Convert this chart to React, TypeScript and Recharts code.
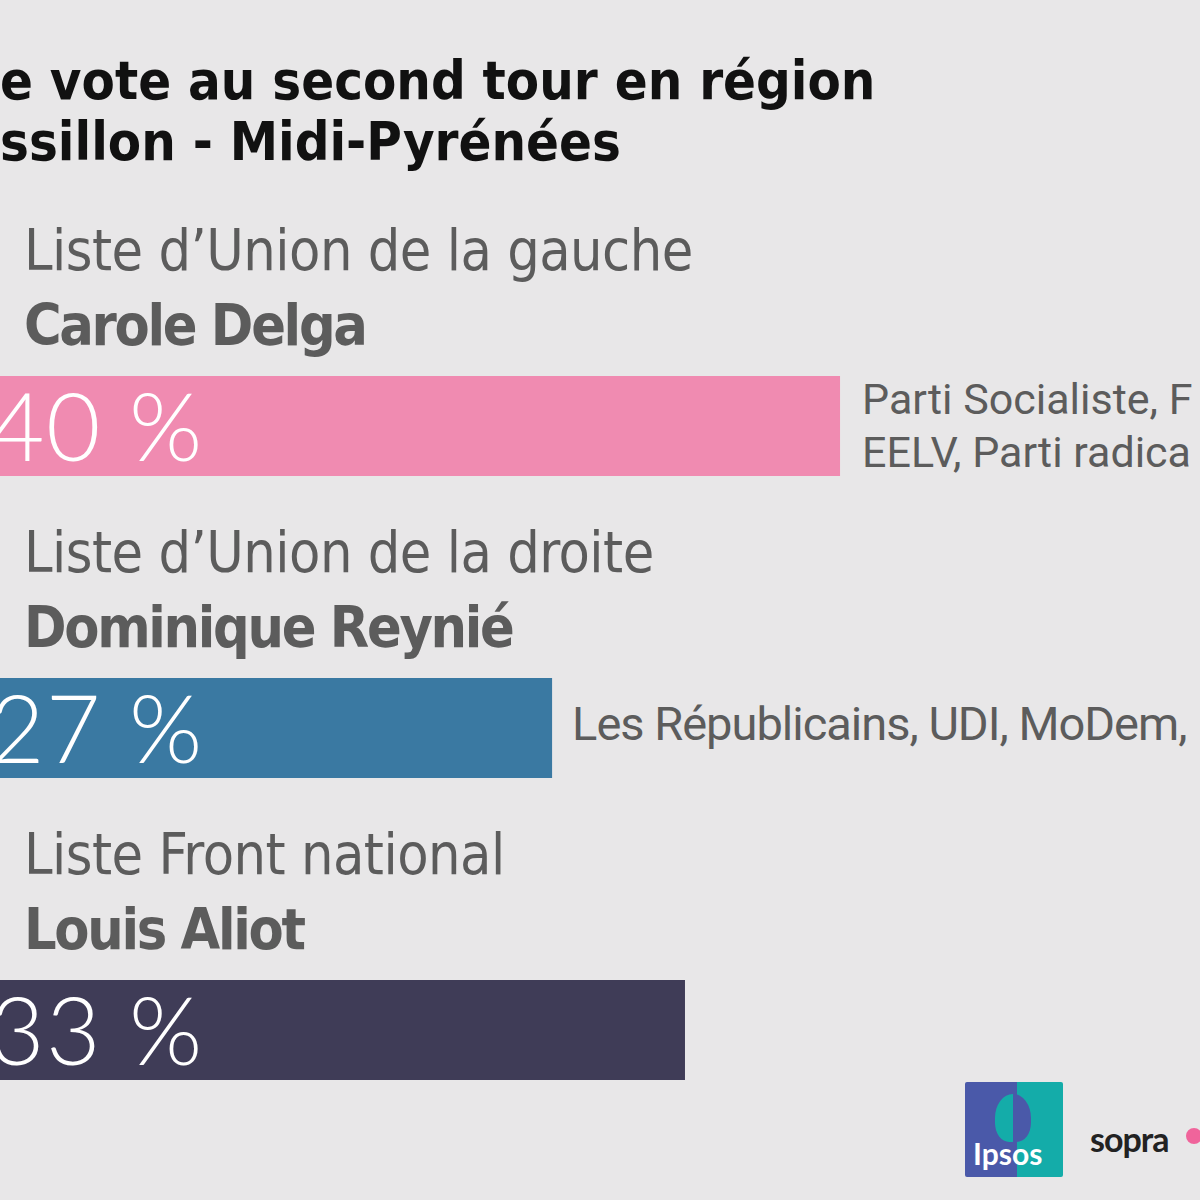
import React from "react";
import { Bar, BarChart, Cell, LabelList, XAxis, YAxis } from "recharts";

// second-round voting intentions, Languedoc-Roussillon - Midi-Pyrénées
const lists = ["Liste d’Union de la gauche", "Liste d’Union de la droite", "Liste Front national"];
const candidates = ["Carole Delga", "Dominique Reynié", "Louis Aliot"];
const scores = [40, 27, 33];
const partyLine1 = ["Parti Socialiste, F", "Les Républicains, UDI, MoDem,", ""];
const partyLine2 = ["EELV, Parti radica", "", ""];
const colors = ["#f08bb1", "#3a79a2", "#3f3c57"];
const titleLines = ["e vote au second tour en région", "ssillon - Midi-Pyrénées"];

const BG = "#e8e7e8";
const GREY = "#5c5c5c";
const NARROW = '"DejaVu Sans", sans-serif';
const COND = { fontStretch: "condensed" as const };

const data = lists.map((list, i) => ({
  list,
  name: candidates[i],
  score: scores[i],
  p1: partyLine1[i],
  p2: partyLine2[i],
}));

function box(props: any) {
  const vb = props.viewBox ?? {};
  return {
    x: Number(props.x ?? vb.x ?? 0),
    y: Number(props.y ?? vb.y ?? 0),
    width: Number(props.width ?? vb.width ?? 0),
    height: Number(props.height ?? vb.height ?? 0),
  };
}

const ListLabel = (props: any) => {
  const { x, y } = box(props);
  return (
    <text x={x + 70} y={y - 106} fill={GREY} fontSize={57} fontFamily={NARROW} letterSpacing={-0.5} style={COND}>
      {props.value}
    </text>
  );
};

const NameLabel = (props: any) => {
  const { x, y } = box(props);
  return (
    <text x={x + 70} y={y - 31} fill={GREY} fontSize={57} fontWeight={700} fontFamily={NARROW} letterSpacing={-2.3} style={COND}>
      {props.value}
    </text>
  );
};

const PctLabel = (props: any) => {
  const { x, y } = box(props);
  return (
    <text x={x + 36} y={y + 85} fill="#ffffff" fontSize={94} fontWeight={300} fontFamily="Lato, sans-serif" letterSpacing={1.5}>
      {`${props.value} %`}
    </text>
  );
};

const Party1 = (props: any) => {
  const { x, y, width } = box(props);
  if (!props.value) return null;
  const single = !props.value.startsWith("Parti");
  return single ? (
    <text x={x + width + 20} y={y + 62} fill={GREY} fontSize={47} fontFamily="Roboto, sans-serif" letterSpacing={-1}>
      {props.value}
    </text>
  ) : (
    <text x={x + width + 22} y={y + 38} fill={GREY} fontSize={43} fontFamily="Roboto, sans-serif">
      {props.value}
    </text>
  );
};

const Party2 = (props: any) => {
  const { x, y, width } = box(props);
  if (!props.value) return null;
  return (
    <text x={x + width + 22} y={y + 91} fill={GREY} fontSize={43} fontFamily="Roboto, sans-serif">
      {props.value}
    </text>
  );
};

export default function App() {
  return (
    <div
      style={{
        position: "absolute",
        left: 0,
        top: 0,
        width: 1200,
        height: 1200,
        overflow: "hidden",
        background: BG,
      }}
    >
      <div
        style={{
          position: "absolute",
          left: 0,
          top: 50,
          fontFamily: NARROW,
          fontStretch: "condensed",
          fontWeight: 700,
          fontSize: 54,
          lineHeight: "61px",
          color: "#111",
          whiteSpace: "nowrap",
        }}
      >
        {titleLines.map((t) => (
          <div key={t}>{t}</div>
        ))}
      </div>

      <div style={{ position: "absolute", left: -46, top: 0 }}>
        <BarChart
          width={1246}
          height={1200}
          data={data}
          layout="vertical"
          margin={{ top: 275, right: 0, bottom: 19, left: 0 }}
        >
          <XAxis type="number" domain={[0, 56.25]} hide />
          <YAxis type="category" dataKey="name" hide />
          <Bar dataKey="score" barSize={100} isAnimationActive={false}>
            {data.map((d, i) => (
              <Cell key={d.name} fill={colors[i]} />
            ))}
            <LabelList dataKey="list" content={ListLabel} />
            <LabelList dataKey="name" content={NameLabel} />
            <LabelList dataKey="score" content={PctLabel} />
            <LabelList dataKey="p1" content={Party1} />
            <LabelList dataKey="p2" content={Party2} />
          </Bar>
        </BarChart>
      </div>

      {/* logos */}
      <div style={{ position: "absolute", left: 965, top: 1082, width: 98, height: 95, display: "flex", overflow: "hidden", borderRadius: 2 }}>
        <div style={{ width: 52, background: "#4a59a9" }} />
        <div style={{ flex: 1, background: "#14aca9" }} />
        <div
          style={{
            position: "absolute",
            left: 30,
            top: 12,
            width: 36,
            height: 48,
            borderRadius: "50% 50% 40% 40%",
            background: "linear-gradient(90deg, #14aca9 50%, #4a59a9 50%)",
          }}
        />
        <div
          style={{
            position: "absolute",
            left: 8,
            bottom: 6,
            color: "#fff",
            fontFamily: "Lato, sans-serif",
            fontWeight: 700,
            fontSize: 30,
          }}
        >
          Ipsos
        </div>
      </div>
      <div
        style={{
          position: "absolute",
          left: 1090,
          top: 1118,
          fontFamily: "Lato, sans-serif",
          fontWeight: 700,
          fontSize: 34,
          color: "#222",
          letterSpacing: -1,
        }}
      >
        sopra
      </div>
      <div style={{ position: "absolute", left: 1186, top: 1128, width: 16, height: 16, borderRadius: 8, background: "#f0649b" }} />
    </div>
  );
}
